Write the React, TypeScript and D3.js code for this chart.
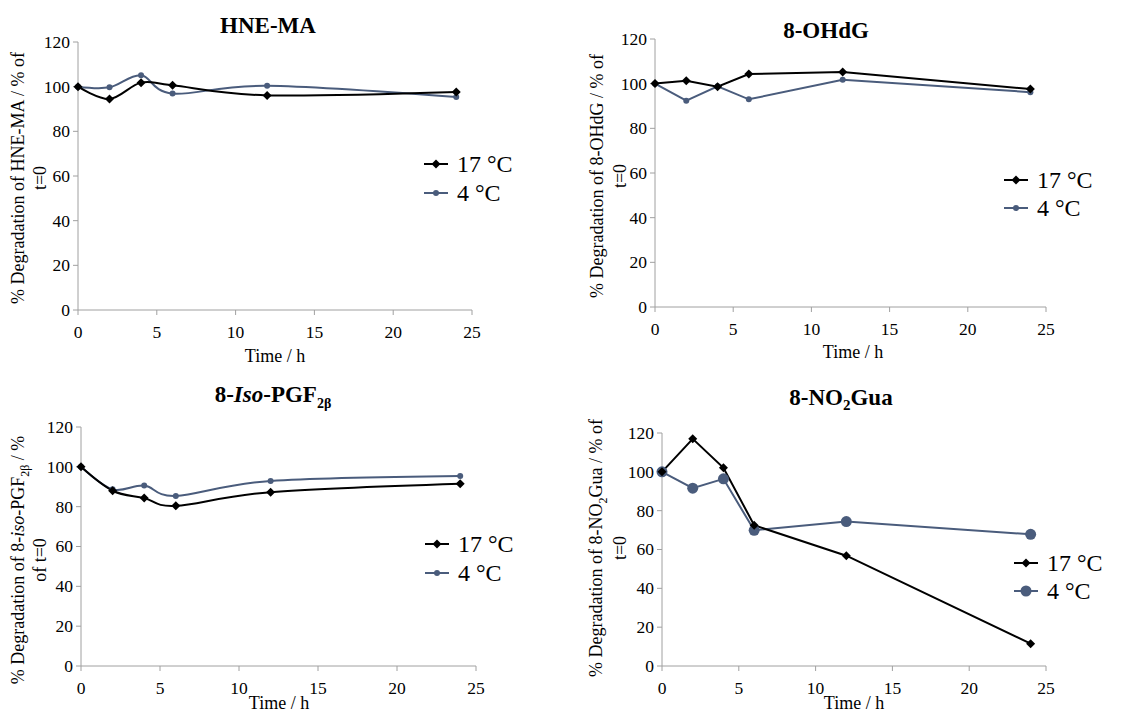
import React from "react";
import * as d3 from "d3";

const times = [0, 2, 4, 6, 12, 24];
const xTicks = [0, 5, 10, 15, 20, 25];
const yTicks = [0, 20, 40, 60, 80, 100, 120];
const seriesNames = ["17 °C", "4 °C"];

const hne17 = [100, 94.5, 101.8, 100.6, 96.1, 97.6];
const hne4 = [100, 99.7, 105.1, 96.9, 100.4, 95.4];
const ohdg17 = [100.1, 101.3, 98.6, 104.3, 105.2, 97.6];
const ohdg4 = [100, 92.4, 98.8, 93.0, 101.7, 96.2];
const iso17 = [100, 88.0, 84.3, 80.4, 87.3, 91.5];
const iso4 = [100, 88.7, 90.6, 85.4, 92.9, 95.4];
const no217 = [100, 117.0, 102.1, 72.5, 56.8, 11.5];
const no24 = [100, 91.6, 96.4, 69.9, 74.4, 67.8];

const C17 = "#000000";
const C4 = "#4a5c7c";
const FONT = "Liberation Serif";

type PanelProps = {
  x0: number; x1: number; y0: number; y1: number;
  s17: number[]; s4: number[]; smooth: boolean; bigDots?: boolean;
  title: React.ReactNode; titleX: number; titleY: number;
  yl1: React.ReactNode; yl2: string; ylX1: number; ylX2: number; ylY: number;
  xlX: number; xlY: number;
  legX: number; legY: number; legDY: number;
};

function Diamond({ x, y, r }: { x: number; y: number; r: number }) {
  return <path d={`M${x},${y - r}L${x + r},${y}L${x},${y + r}L${x - r},${y}Z`} fill={C17} />;
}

function Panel(p: PanelProps) {
  const xs = d3.scaleLinear().domain([0, 25]).range([p.x0, p.x1]);
  const ys = d3.scaleLinear().domain([0, 120]).range([p.y0, p.y1]);
  const line = d3
    .line<number>()
    .x((_, i) => xs(times[i]))
    .y((v) => ys(v))
    .curve(p.smooth ? d3.curveCatmullRom.alpha(0) : d3.curveLinear);
  const r4 = p.bigDots ? 5.5 : 3;
  return (
    <g fontFamily={FONT}>
      <text x={p.titleX} y={p.titleY} textAnchor="middle" fontWeight="bold" fontSize={23}>{p.title}</text>
      <line x1={p.x0} x2={p.x0} y1={ys(0)} y2={ys(120)} stroke="#a0a0a0" strokeWidth={1} />
      <line x1={p.x0} x2={p.x1} y1={ys(0)} y2={ys(0)} stroke="#a0a0a0" strokeWidth={1} />
      {yTicks.map((t) => (
        <g key={"y" + t}>
          <line x1={p.x0 - 5} x2={p.x0} y1={ys(t)} y2={ys(t)} stroke="#a0a0a0" />
          <text x={p.x0 - 8} y={ys(t)} dy="0.34em" textAnchor="end" fontSize={17.5}>{t}</text>
        </g>
      ))}
      {xTicks.map((t) => (
        <g key={"x" + t}>
          <line x1={xs(t)} x2={xs(t)} y1={ys(0)} y2={ys(0) + 5} stroke="#a0a0a0" />
          <text x={xs(t)} y={ys(0) + 28} textAnchor="middle" fontSize={17.5}>{t}</text>
        </g>
      ))}
      <text x={p.xlX} y={p.xlY} textAnchor="middle" fontSize={18}>Time / h</text>
      <text transform={`translate(${p.ylX1},${p.ylY}) rotate(-90)`} textAnchor="middle" fontSize={18}>{p.yl1}</text>
      <text transform={`translate(${p.ylX2},${p.ylY}) rotate(-90)`} textAnchor="middle" fontSize={18}>{p.yl2}</text>
      <path d={line(p.s4) || ""} fill="none" stroke={C4} strokeWidth={2} />
      <path d={line(p.s17) || ""} fill="none" stroke={C17} strokeWidth={2} />
      {p.s4.map((v, i) => (
        <circle key={"c" + i} cx={xs(times[i])} cy={ys(v)} r={r4} fill={C4} />
      ))}
      {p.s17.map((v, i) => (
        <Diamond key={"d" + i} x={xs(times[i])} y={ys(v)} r={4.5} />
      ))}
      {seriesNames.map((n, i) => {
        const ly = p.legY + i * p.legDY;
        return (
          <g key={n}>
            <line x1={p.legX} x2={p.legX + 24} y1={ly} y2={ly} stroke={i === 0 ? C17 : C4} strokeWidth={2} />
            {i === 0 ? <Diamond x={p.legX + 12} y={ly} r={4.5} /> : <circle cx={p.legX + 12} cy={ly} r={r4} fill={C4} />}
            <text x={p.legX + 33} y={ly} dy="0.35em" fontSize={24}>{n}</text>
          </g>
        );
      })}
    </g>
  );
}

export default function App() {
  return (
    <svg width={1148} height={712} style={{ position: "absolute", left: 0, top: 0, background: "#fff" }}>
      <rect width={1148} height={712} fill="#fff" />
      <Panel x0={78} x1={472} y0={310} y1={42} s17={hne17} s4={hne4} smooth
        title="HNE-MA" titleX={268} titleY={33}
        yl1="% Degradation  of HNE-MA  / % of" yl2="t=0" ylX1={24} ylX2={46} ylY={178}
        xlX={275} xlY={362} legX={424} legY={164} legDY={29} />
      <Panel x0={655} x1={1046} y0={307} y1={39} s17={ohdg17} s4={ohdg4} smooth={false}
        title="8-OHdG" titleX={826} titleY={38}
        yl1="% Degradation  of 8-OHdG  / % of" yl2="t=0" ylX1={603} ylX2={626} ylY={176}
        xlX={853} xlY={358} legX={1004} legY={180} legDY={28} />
      <Panel x0={81} x1={476} y0={666} y1={427} s17={iso17} s4={iso4} smooth
        title={<>8-<tspan fontStyle="italic">Iso</tspan>-PGF<tspan fontSize={14} dy={6}>2β</tspan></>}
        titleX={273} titleY={402}
        yl1={<>% Degradation  of 8-<tspan fontStyle="italic">iso</tspan>-PGF<tspan fontSize={12} dy={5}>2β</tspan><tspan dy={-5}>  / %</tspan></>}
        yl2="of t=0" ylX1={24} ylX2={46} ylY={560}
        xlX={279} xlY={709} legX={425} legY={544} legDY={29} />
      <Panel x0={662} x1={1046} y0={666} y1={433} s17={no217} s4={no24} smooth={false} bigDots
        title={<>8-NO<tspan fontSize={15} dy={5}>2</tspan><tspan dy={-5}>Gua</tspan></>}
        titleX={841} titleY={405}
        yl1={<>% Degradation  of 8-NO<tspan fontSize={12} dy={5}>2</tspan><tspan dy={-5}>Gua  / % of</tspan></>}
        yl2="t=0" ylX1={602} ylX2={626} ylY={548}
        xlX={854} xlY={709} legX={1014} legY={563} legDY={28} />
    </svg>
  );
}
